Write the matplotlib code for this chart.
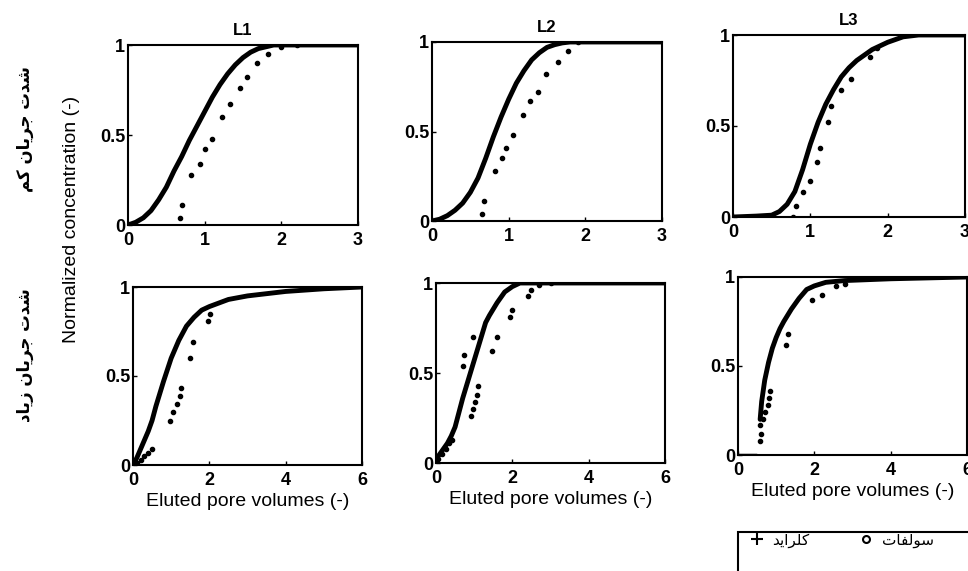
import numpy as np
import matplotlib
matplotlib.use("Agg")
import matplotlib.pyplot as plt
from matplotlib.lines import Line2D
from matplotlib.patches import Rectangle

plt.rcParams['font.family'] = ['Liberation Sans', 'DejaVu Sans']

# ---- data ----
# top row (low flow), x in 0..3
l1_top_line_x = [0, 0.1, 0.2, 0.3, 0.4, 0.5, 0.6, 0.7, 0.8, 0.9, 1.0, 1.1, 1.2, 1.3, 1.4, 1.5,
                 1.6, 1.7, 1.8, 1.9, 2.0, 3.0]
l1_top_line_y = [0, 0.015, 0.04, 0.08, 0.14, 0.21, 0.30, 0.38, 0.47, 0.55, 0.63, 0.71, 0.78,
                 0.84, 0.89, 0.93, 0.96, 0.98, 0.99, 1.0, 1.0, 1.0]
l1_top_dot_x = [0.68, 0.70, 0.82, 0.94, 1.0, 1.09, 1.22, 1.33, 1.46, 1.55, 1.68, 1.83, 2.0, 2.2]
l1_top_dot_y = [0.04, 0.11, 0.28, 0.34, 0.42, 0.48, 0.60, 0.67, 0.76, 0.82, 0.90, 0.95, 0.99, 1.0]

l2_top_line_x = [0, 0.1, 0.2, 0.3, 0.4, 0.5, 0.6, 0.7, 0.8, 0.9, 1.0, 1.1, 1.2, 1.3, 1.4, 1.5,
                 1.6, 1.7, 1.8, 3.0]
l2_top_line_y = [0, 0.01, 0.03, 0.06, 0.10, 0.16, 0.24, 0.35, 0.47, 0.58, 0.68, 0.77, 0.84,
                 0.90, 0.94, 0.97, 0.985, 0.995, 1.0, 1.0]
l2_top_dot_x = [0.65, 0.68, 0.82, 0.91, 0.97, 1.06, 1.19, 1.28, 1.38, 1.49, 1.64, 1.77, 1.9]
l2_top_dot_y = [0.04, 0.11, 0.28, 0.35, 0.41, 0.48, 0.59, 0.67, 0.72, 0.82, 0.89, 0.95, 1.0]

l3_top_line_x = [0, 0.3, 0.5, 0.6, 0.7, 0.8, 0.9, 1.0, 1.1, 1.2, 1.3, 1.4, 1.5, 1.6, 1.8,
                 2.0, 2.2, 2.4, 3.0]
l3_top_line_y = [0, 0.005, 0.01, 0.03, 0.07, 0.14, 0.26, 0.40, 0.52, 0.62, 0.70, 0.77, 0.82,
                 0.86, 0.92, 0.96, 0.99, 1.0, 1.0]
l3_top_dot_x = [0.78, 0.82, 0.91, 1.0, 1.08, 1.12, 1.23, 1.27, 1.40, 1.53, 1.77, 1.86]
l3_top_dot_y = [0.0, 0.06, 0.14, 0.20, 0.30, 0.38, 0.52, 0.61, 0.70, 0.76, 0.88, 0.93]

# bottom row (high flow), x in 0..6
l1_bot_line_x = [0, 0.1, 0.2, 0.3, 0.4, 0.5, 0.6, 0.8, 1.0, 1.2, 1.4, 1.6, 1.8, 2.0, 2.5,
                 3.0, 4.0, 5.0, 6.0]
l1_bot_line_y = [0, 0.04, 0.09, 0.14, 0.19, 0.25, 0.33, 0.47, 0.60, 0.70, 0.78, 0.83, 0.87,
                 0.89, 0.93, 0.95, 0.975, 0.99, 1.0]
l1_bot_dot_x = [0.1, 0.2, 0.3, 0.4, 0.5, 0.96, 1.05, 1.14, 1.23, 1.25, 1.49, 1.57, 1.96, 2.01]
l1_bot_dot_y = [0.01, 0.03, 0.05, 0.07, 0.09, 0.25, 0.30, 0.34, 0.39, 0.43, 0.60, 0.69, 0.81, 0.85]

l2_bot_line_x = [0, 0.1, 0.2, 0.3, 0.4, 0.5, 0.6, 0.7, 0.8, 0.9, 1.0, 1.1, 1.2, 1.3, 1.4,
                 1.6, 1.8, 2.0, 2.2, 4.0, 6.0]
l2_bot_line_y = [0.02, 0.05, 0.08, 0.11, 0.15, 0.20, 0.28, 0.36, 0.43, 0.50, 0.57, 0.64, 0.71,
                 0.78, 0.82, 0.89, 0.95, 0.98, 1.0, 1.0, 1.0]
l2_bot_dot_x = [0.05, 0.15, 0.25, 0.35, 0.41, 0.72, 0.74, 0.93, 0.96, 0.98, 1.01, 1.07, 1.09,
                1.46, 1.59, 1.94, 1.98, 2.42, 2.48, 2.7, 3.0]
l2_bot_dot_y = [0.02, 0.05, 0.08, 0.11, 0.13, 0.54, 0.60, 0.26, 0.70, 0.30, 0.34, 0.38, 0.43,
                0.62, 0.70, 0.81, 0.85, 0.93, 0.96, 0.99, 1.0]

l3_bot_line_x = [0.58, 0.62, 0.7, 0.8, 0.9, 1.0, 1.1, 1.2, 1.4, 1.6, 1.8, 2.0, 2.3, 2.8, 4.0, 6.0]
l3_bot_line_y = [0.20, 0.30, 0.42, 0.52, 0.60, 0.66, 0.71, 0.75, 0.82, 0.88, 0.93, 0.95, 0.97,
                 0.98, 0.99, 1.0]
l3_bot_dot_x = [0.58, 0.61, 0.58, 0.66, 0.71, 0.79, 0.80, 0.83, 1.27, 1.31, 1.93, 2.19, 2.58, 2.8]
l3_bot_dot_y = [0.08, 0.12, 0.17, 0.20, 0.24, 0.28, 0.32, 0.36, 0.62, 0.68, 0.87, 0.90, 0.95, 0.96]

titles = ['L1', 'L2', 'L3']
top_xticks = [0, 1, 2, 3]
bot_xticks = [0, 2, 4, 6]
yticks = [0, 0.5, 1]
ytick_labels = ['0', '0.5', '1']

# Persian labels, written in visual order with presentation forms
row_low = "\uFEE2\uFB90 \uFEE5\uFE8E\uFEF3\uFEAE\uFE9F \uFE95\uFEAA\uFEB7"          # شدت جریان کم
row_high = "\uFEA9\uFE8E\uFEF3\uFEAF \uFEE5\uFE8E\uFEF3\uFEAE\uFE9F \uFE95\uFEAA\uFEB7"  # شدت جریان زیاد
lab_chloride = "\uFEAA\uFEF3\uFE8D\uFEAE\uFEE0\uFB90"   # کلراید
lab_sulfate = "\uFE95\uFE8E\uFED4\uFEDF\uFEEE\uFEB3"    # سولفات

W, H = 968, 571
top_boxes = [(128, 45, 358, 225), (432, 42, 662, 221), (733, 35, 965, 217)]
bot_boxes = [(133, 287, 362, 465), (436, 283, 665, 463), (738, 277, 967, 455)]

fig = plt.figure(figsize=(W / 100, H / 100), dpi=100)

def make_ax(box):
    x0, y0, x1, y1 = box
    return fig.add_axes([x0 / W, 1 - y1 / H, (x1 - x0) / W, (y1 - y0) / H])

top_data = [(l1_top_line_x, l1_top_line_y, l1_top_dot_x, l1_top_dot_y),
            (l2_top_line_x, l2_top_line_y, l2_top_dot_x, l2_top_dot_y),
            (l3_top_line_x, l3_top_line_y, l3_top_dot_x, l3_top_dot_y)]
bot_data = [(l1_bot_line_x, l1_bot_line_y, l1_bot_dot_x, l1_bot_dot_y),
            (l2_bot_line_x, l2_bot_line_y, l2_bot_dot_x, l2_bot_dot_y),
            (l3_bot_line_x, l3_bot_line_y, l3_bot_dot_x, l3_bot_dot_y)]

for row, (boxes, data, xt, xmax) in enumerate([(top_boxes, top_data, top_xticks, 3),
                                                 (bot_boxes, bot_data, bot_xticks, 6)]):
    for i in range(3):
        ax = make_ax(boxes[i])
        lx, ly, dx, dy = data[i]
        if row == 1 and i == 2:
            ax.plot([0, 0.45], [0, 0], color='black', lw=2.5)
        ax.plot(lx, ly, color='black', lw=3.5, solid_capstyle='round', solid_joinstyle='round')
        ax.plot(dx, dy, ls='none', marker='o', ms=3, color='black')
        ax.set_xlim(0, xmax)
        ax.set_ylim(0, 1)
        ax.set_xticks(xt)
        ax.set_xticklabels([str(v) for v in xt], fontweight='bold', fontsize=13)
        ax.set_yticks(yticks)
        ax.set_yticklabels(ytick_labels, fontweight='bold', fontsize=13)
        ax.tick_params(direction='in', length=3, width=1)
        ax.tick_params(axis='x', pad=5)
        ax.tick_params(axis='y', pad=2)
        for s in ax.spines.values():
            s.set_linewidth(1.5)
        if row == 0:
            ax.set_title(titles[i], fontweight='bold', fontsize=12, pad=7)
        else:
            ax.set_xlabel('Eluted pore volumes (-)', fontsize=14, labelpad=3)

fig.text(72 / W, 1 - 219 / H, 'Normalized concentration (-)', rotation=90,
         ha='center', va='center', fontsize=14)
fig.text(25 / W, 1 - 129 / H, row_low, rotation=90, ha='center', va='center',
         fontsize=12, fontweight='bold', family='DejaVu Sans')
fig.text(25 / W, 1 - 355 / H, row_high, rotation=90, ha='center', va='center',
         fontsize=12, fontweight='bold', family='DejaVu Sans')

# legend box runs past the right and bottom edges, as in the scan
fig.patches.append(Rectangle((738 / W, -0.1), 0.5, 0.1 + (H - 532) / H,
                             transform=fig.transFigure, fill=False,
                             edgecolor='black', lw=1.5))
handles = [Line2D([], [], ls='none', marker='+', ms=8, mew=1.5, color='black'),
           Line2D([], [], ls='none', marker='o', ms=5, mfc='none', mew=1.5, color='black')]
leg = fig.legend(handles, [lab_chloride, lab_sulfate], ncol=2, loc='upper left',
                 bbox_to_anchor=(745 / W, 1 - 528 / H), frameon=False,
                 borderpad=0.3, borderaxespad=0, handlelength=1.0,
                 handletextpad=0.5, columnspacing=3.2,
                 prop={'family': 'DejaVu Sans', 'size': 11})

fig.savefig('out.png', dpi=100)
